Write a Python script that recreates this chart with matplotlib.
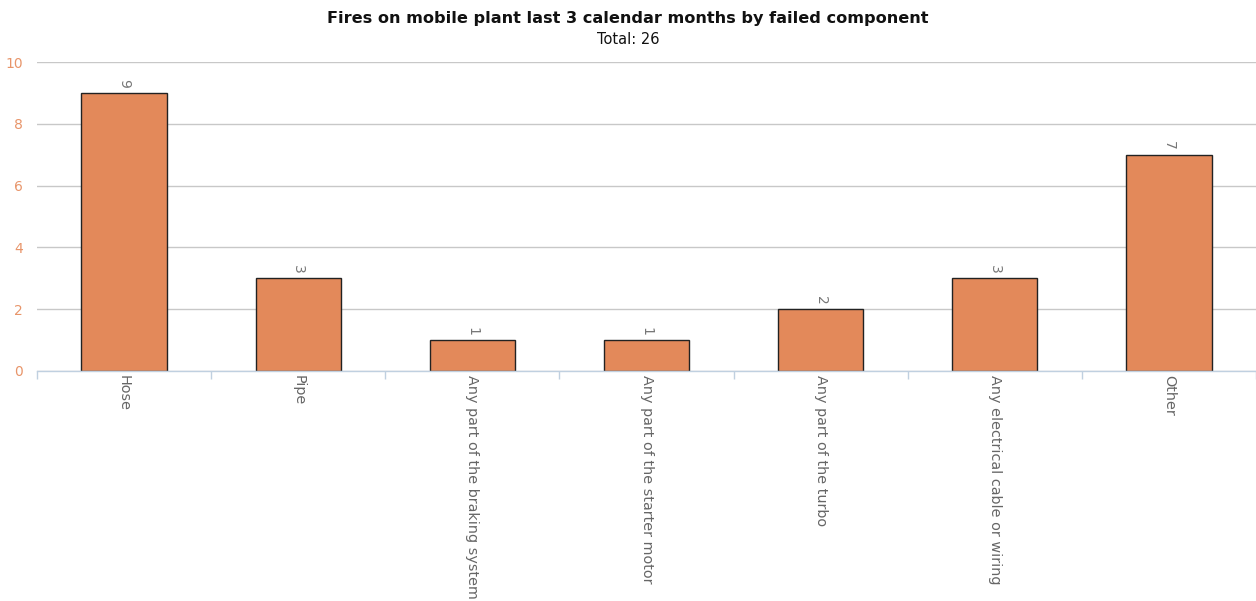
import matplotlib
matplotlib.use("Agg")
import matplotlib.pyplot as plt
import numpy as np

plt.rcParams['font.family'] = ['DejaVu Sans']

categories = ["Hose", "Pipe", "Any part of the braking system", "Any part of the starter motor",
              "Any part of the turbo", "Any electrical cable or wiring", "Other"]
counts = [9, 3, 1, 1, 2, 3, 7]
yticks = [0, 2, 4, 6, 8, 10]

fig = plt.figure(figsize=(12.56, 6.01), dpi=100)
ax = fig.add_axes([37/1256, 1-371/601, 1-37/1256, (371-62)/601])

x = np.arange(len(categories))
ax.bar(x, counts, width=0.49, color="#E3895A", edgecolor="#222222", linewidth=1, zorder=3)

for xi, v in zip(x, counts):
    ax.text(xi, v + 0.15, str(v), rotation=-90, ha="center", va="bottom",
            color="#777777", fontsize=10, zorder=4)

ax.set_xlim(-0.5, len(categories) - 0.5)
ax.set_ylim(0, 10)
ax.set_yticks(yticks)
ax.yaxis.grid(True, color="#C8C8C8", linewidth=1, zorder=0)
ax.tick_params(axis="y", length=0, labelcolor="#E8956A", labelsize=10, pad=10)

ax.set_xticks(x)
ax.set_xticklabels(categories, rotation=-90, color="#666666", fontsize=10.4, ha="center", va="top")
ax.tick_params(axis="x", length=0, pad=3)
ax.set_xticks(np.arange(-0.5, len(categories)), minor=True)
ax.tick_params(axis="x", which="minor", length=6, color="#C0D0E0", width=1)

for s in ["top", "right", "left"]:
    ax.spines[s].set_visible(False)
ax.spines["bottom"].set_color("#C0D0E0")
ax.spines["bottom"].set_linewidth(1)
ax.spines["bottom"].set_zorder(4)

fig.text(0.5, 1-19/601, "Fires on mobile plant last 3 calendar months by failed component",
         ha="center", va="center", fontsize=11.6, fontweight="bold", color="#111111")
fig.text(0.5, 1-40/601, "Total: 26", ha="center", va="center", fontsize=10.5, color="#111111")

fig.savefig("out.png", dpi=100)
